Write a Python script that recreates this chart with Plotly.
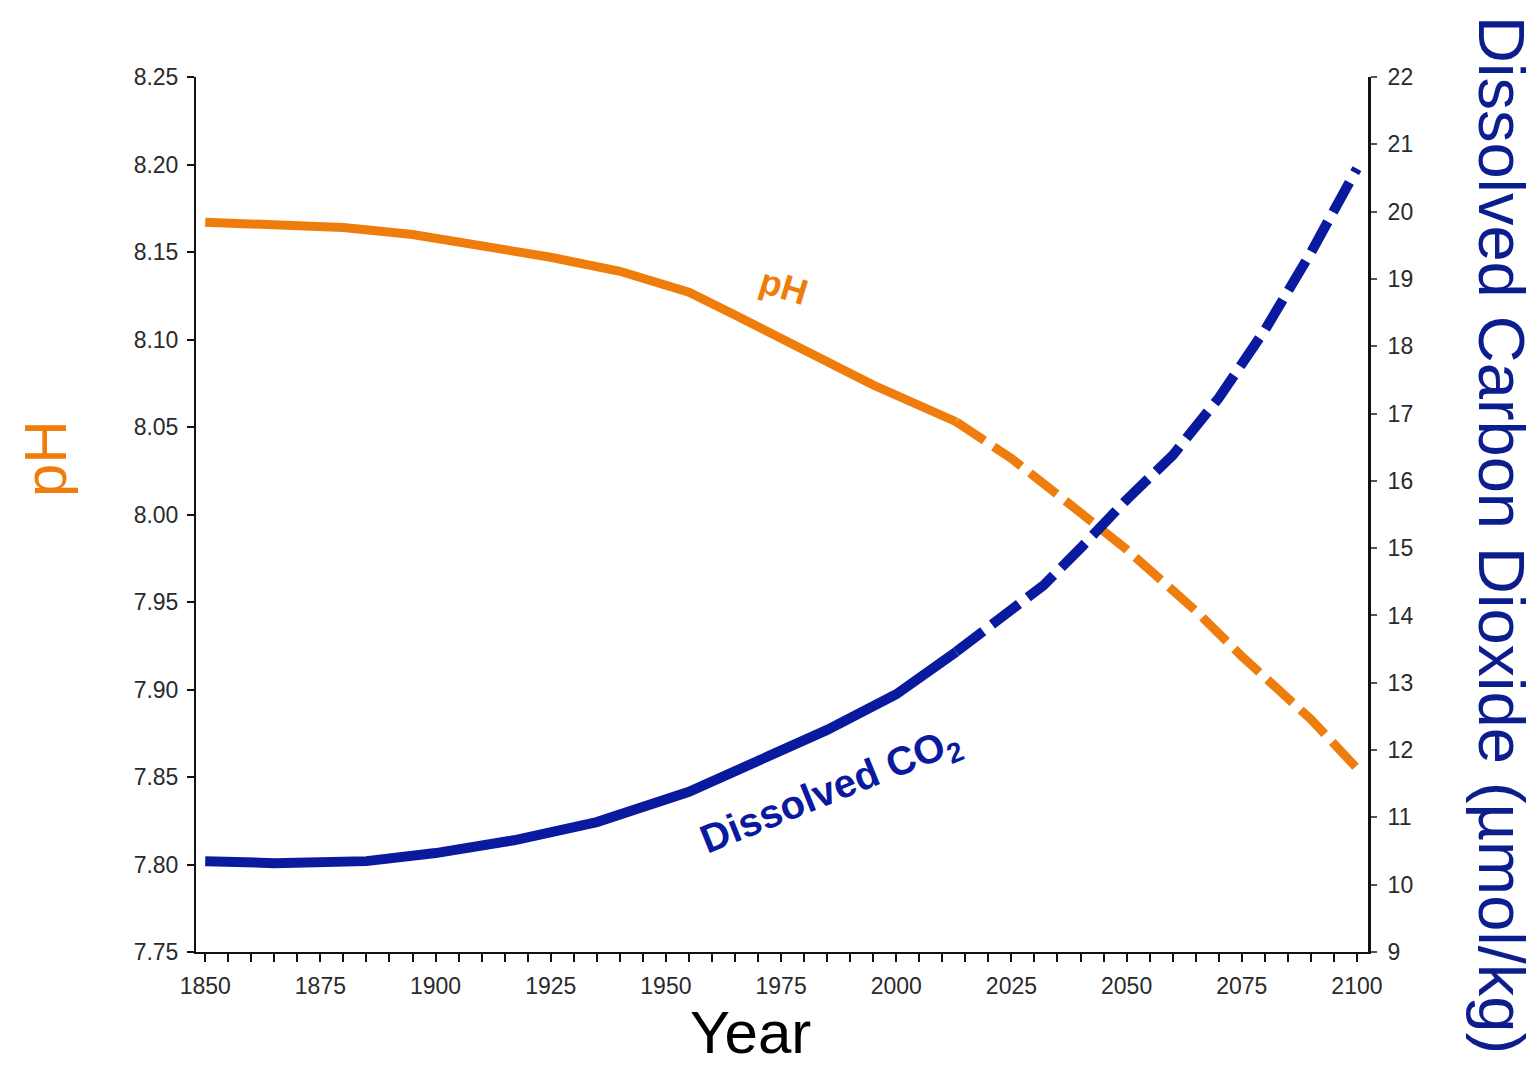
import plotly.graph_objects as go

# ---- data ----
ph_years_obs = [1850, 1865, 1880, 1895, 1910, 1925, 1940, 1955, 1965, 1980, 1995, 2013]
ph_obs = [8.167, 8.166, 8.164, 8.160, 8.154, 8.147, 8.139, 8.127, 8.114, 8.094, 8.074, 8.053]
ph_years_proj = [2013, 2025, 2040, 2050, 2065, 2075, 2090, 2100]
ph_proj = [8.053, 8.032, 8.001, 7.980, 7.945, 7.919, 7.883, 7.855]

co2_years_obs = [1850, 1865, 1885, 1900, 1917, 1935, 1955, 1970, 1985, 2000, 2013]
co2_obs = [10.35, 10.32, 10.35, 10.47, 10.66, 10.93, 11.38, 11.82, 12.30, 12.83, 13.46]
co2_years_proj = [2013, 2025, 2032, 2040, 2050, 2060, 2070, 2080, 2090, 2100]
co2_proj = [13.46, 14.08, 14.45, 15.00, 15.72, 16.38, 17.23, 18.24, 19.39, 20.64]

x_ticks = list(range(1850, 2101, 5))
x_ticklabels = [str(y) if y % 25 == 0 else "" for y in x_ticks]
ph_ticks = [7.75, 7.80, 7.85, 7.90, 7.95, 8.00, 8.05, 8.10, 8.15, 8.20, 8.25]
co2_ticks = list(range(9, 23))

ORANGE = "#ef7d0b"
BLUE = "#0a1a9e"
TITLE_BLUE = "#0c1e8e"
FONT = "Liberation Sans, Arial, sans-serif"

# page offset of plotly div (body margin) and plot-area box in page pixels
OFF = 8
PL, PR, PT, PB = 196, 1368, 77, 952

fig = go.Figure()
fig.add_trace(go.Scatter(x=ph_years_obs, y=ph_obs, mode="lines",
                         line=dict(color=ORANGE, width=9), yaxis="y", showlegend=False))
fig.add_trace(go.Scatter(x=ph_years_proj, y=ph_proj, mode="lines",
                         line=dict(color=ORANGE, width=9, dash="34px,11px"), yaxis="y", showlegend=False))
fig.add_trace(go.Scatter(x=co2_years_obs, y=co2_obs, mode="lines",
                         line=dict(color=BLUE, width=10), yaxis="y2", showlegend=False))
fig.add_trace(go.Scatter(x=co2_years_proj, y=co2_proj, mode="lines",
                         line=dict(color=BLUE, width=10, dash="34px,11px"), yaxis="y2", showlegend=False))

tickfont = dict(family=FONT, size=23, color="#2a2a2a")

W, H = 1538 - OFF, 1065 - OFF
fig.update_layout(
    width=W, height=H,
    margin=dict(l=PL - OFF, r=OFF + W - PR, t=PT - OFF, b=OFF + H - PB),
    paper_bgcolor="white", plot_bgcolor="white",
    font=dict(family=FONT),
    xaxis=dict(range=[1848, 2102.4], tickvals=x_ticks, ticktext=x_ticklabels,
               showgrid=False, zeroline=False, showline=True, linecolor="#111", linewidth=2,
               ticks="outside", ticklen=8, tickcolor="#111", tickwidth=1.5,
               tickfont=tickfont, ticklabelstandoff=4),
    yaxis=dict(range=[7.75, 8.25], tickvals=ph_ticks, tickformat=".2f",
               showgrid=False, zeroline=False, showline=True, linecolor="#111", linewidth=2,
               ticks="outside", ticklen=7, tickcolor="#111", tickwidth=1.5,
               tickfont=tickfont, ticklabelstandoff=4),
    yaxis2=dict(range=[9, 22], tickvals=co2_ticks, overlaying="y", side="right",
                showgrid=False, zeroline=False, showline=True, linecolor="#111", linewidth=3,
                ticks="outside", ticklen=6, tickcolor="#555", tickwidth=1.5,
                tickfont=tickfont, ticklabelstandoff=6),
)

annotations = [
    dict(text="Year", x=750, y=1032, font=dict(size=60, color="black", family=FONT), textangle=0),
    dict(text="pH", x=45, y=459, font=dict(size=60, color=ORANGE, family=FONT), textangle=-90),
    dict(text="Dissolved Carbon Dioxide (µmol/kg)", x=1502, y=535,
         font=dict(size=65, color=TITLE_BLUE, family=FONT), textangle=90),
    dict(text="<b>pH</b>", x=784, y=286, font=dict(size=36, color=ORANGE, family=FONT), textangle=17),
    dict(text="<b>Dissolved CO<sub>2</sub></b>", x=831, y=792,
         font=dict(size=40, color=BLUE, family=FONT), textangle=-22),
]
for a in annotations:
    fig.add_annotation(x=(a["x"] - PL) / (PR - PL), y=(PB - a["y"]) / (PB - PT),
                       xref="paper", yref="paper",
                       xanchor="center", yanchor="middle", showarrow=False,
                       text=a["text"], font=a["font"], textangle=a["textangle"])

fig.write_html("out.html")
